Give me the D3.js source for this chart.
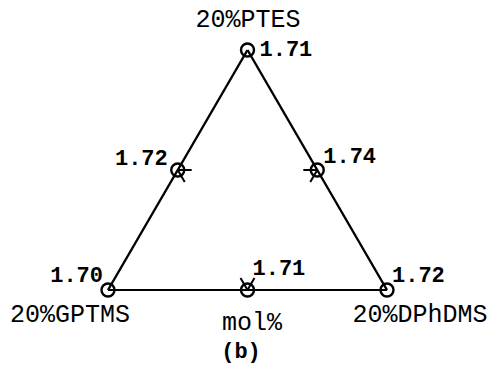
<!DOCTYPE html>
<html>
<head>
<meta charset="utf-8">
<script src="https://cdn.jsdelivr.net/npm/d3@7"></script>
<style>
  html, body { margin: 0; padding: 0; background: #fff; }
</style>
</head>
<body>
<div id="chart"></div>
<script>
// ternary compositions (fraction of the 20 mol% budget) and refractive index
const ptes   = [1.0, 0.0, 0.0, 0.5, 0.5, 0.0];
const gptms  = [0.0, 1.0, 0.0, 0.5, 0.0, 0.5];
const dphdms = [0.0, 0.0, 1.0, 0.0, 0.5, 0.5];
const refIndex = [1.71, 1.70, 1.72, 1.72, 1.74, 1.71];
const vertexNames = ["20%PTES", "20%GPTMS", "20%DPhDMS"];
const axisTitle = "mol%";
const panelTag = "(b)";

const W = 491, H = 376;
const SQ3 = Math.sqrt(3) / 2;
const MONO = "'Liberation Mono', 'DejaVu Sans Mono', monospace";

// ternary -> cartesian
const x = d3.scaleLinear().domain([0, 1]).range([108, 387]);
const y = d3.scaleLinear().domain([0, SQ3]).range([290, 50]);
const px = (p, g, d) => x(d + p * 0.5);
const py = (p, g, d) => y(p * SQ3);

const svg = d3.select("#chart").append("svg")
  .attr("width", W).attr("height", H)
  .style("display", "block");

// triangle edges
const corners = [0, 1, 2].map(i => [px(ptes[i], gptms[i], dphdms[i]), py(ptes[i], gptms[i], dphdms[i])]);
const edges = [[0, 1, 2.4], [0, 2, 2.4], [1, 2, 2]];
edges.forEach(([a, b, w]) => {
  svg.append("line")
    .attr("x1", corners[a][0]).attr("y1", corners[a][1])
    .attr("x2", corners[b][0]).attr("y2", corners[b][1])
    .style("stroke", "#000").style("stroke-width", w);
});

// small ticks at the 50% marks, running inward along the iso-lines
const tk = 0.05;
const ticks = [
  [[0.5, 0.5, 0], [0.5, 0.5 - tk, tk]],
  [[0.5, 0.5, 0], [0.5 - tk, 0.5, tk]],
  [[0.5, 0, 0.5], [0.5, tk, 0.5 - tk]],
  [[0.5, 0, 0.5], [0.5 - tk, tk, 0.5]],
  [[0, 0.5, 0.5], [tk, 0.5, 0.5 - tk]],
  [[0, 0.5, 0.5], [tk, 0.5 - tk, 0.5]]
];
ticks.forEach(([s, e]) => {
  svg.append("line")
    .attr("x1", px(...s)).attr("y1", py(...s))
    .attr("x2", px(...e)).attr("y2", py(...e))
    .style("stroke", "#000").style("stroke-width", 2);
});

// sample points
const pts = refIndex.map((v, i) => ({ p: ptes[i], g: gptms[i], d: dphdms[i], v }));
svg.selectAll("circle.pt").data(pts).enter().append("circle")
  .attr("class", "pt")
  .attr("cx", d => px(d.p, d.g, d.d))
  .attr("cy", d => py(d.p, d.g, d.d))
  .attr("r", 6.5)
  .style("fill", "none").style("stroke", "#000").style("stroke-width", 2.4);

// value labels
const labelPos = [
  { a: "start", dx: 12, dy: 6 },
  { a: "end", dx: -5, dy: -8 },
  { a: "start", dx: 5, dy: -8 },
  { a: "end", dx: -10, dy: -5 },
  { a: "start", dx: 6, dy: -7 },
  { a: "start", dx: 5, dy: -15 }
];
svg.selectAll("text.val").data(pts).enter().append("text")
  .attr("class", "val")
  .attr("x", (d, i) => px(d.p, d.g, d.d) + labelPos[i].dx)
  .attr("y", (d, i) => py(d.p, d.g, d.d) + labelPos[i].dy)
  .attr("text-anchor", (d, i) => labelPos[i].a)
  .text(d => d.v.toFixed(2))
  .style("font-family", MONO)
  .style("font-weight", "bold")
  .style("font-size", "22px")
  .style("fill", "#000");

// vertex names
const vertexPos = [[248, 27], [70, 322], [420, 322]];
vertexNames.forEach((n, i) => {
  svg.append("text")
    .attr("x", vertexPos[i][0]).attr("y", vertexPos[i][1])
    .attr("text-anchor", "middle")
    .text(n)
    .style("font-family", MONO)
    .style("font-size", "25px")
    .style("fill", "#000");
});

svg.append("text")
  .attr("x", 252).attr("y", 330)
  .attr("text-anchor", "middle")
  .text(axisTitle)
  .style("font-family", MONO)
  .style("font-size", "25px");

svg.append("text")
  .attr("x", 241).attr("y", 358)
  .attr("text-anchor", "middle")
  .text(panelTag)
  .style("font-family", MONO)
  .style("font-weight", "bold")
  .style("font-size", "22px");
</script>
</body>
</html>
